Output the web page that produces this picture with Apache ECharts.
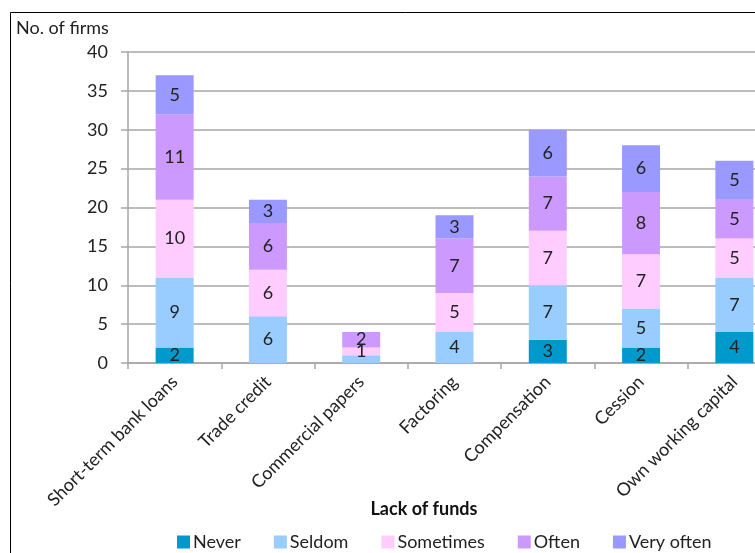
<!DOCTYPE html>
<html>
<head>
<meta charset="utf-8">
<script src="https://cdn.jsdelivr.net/npm/echarts@6/dist/echarts.min.js"></script>
<style>
  html, body { margin: 0; padding: 0; background: #fff; overflow: hidden; }
  /* the plot runs past the right edge of the window, so the canvas is wider than the view */
  #chart { width: 800px; height: 553px; }
</style>
</head>
<body>
<div id="chart"></div>
<script>
// Forms of financing used when funds are lacking
const categories = ['Short-term bank loans', 'Trade credit', 'Commercial papers', 'Factoring', 'Compensation', 'Cession', 'Own working capital'];
const seriesNames = ['Never', 'Seldom', 'Sometimes', 'Often', 'Very often'];
const never     = [2, 0, 0, 0, 3, 2, 4];
const seldom    = [9, 6, 1, 4, 7, 5, 7];
const sometimes = [10, 6, 1, 5, 7, 7, 5];
const often     = [11, 6, 2, 7, 7, 8, 5];
const veryOften = [5, 3, 0, 3, 6, 6, 5];
const yTicks = [0, 5, 10, 15, 20, 25, 30, 35, 40];

const colors = ['#0099cc', '#99ccff', '#ffccff', '#cc99ff', '#9999ff'];
const FONT = 'Lato';
const FS = 18;

// the seldom label of the small "Commercial papers" bar is hidden behind the next one
const hiddenLabels = { 1: [2] };

const values = [never, seldom, sometimes, often, veryOften];
const series = values.map((vals, si) => ({
  name: seriesNames[si],
  type: 'bar',
  stack: 'total',
  barWidth: 38,
  itemStyle: { color: colors[si] },
  label: {
    show: true,
    position: 'inside',
    color: '#222',
    fontFamily: FONT,
    fontSize: FS,
    formatter: p => (p.value ? String(p.value) : '')
  },
  data: vals.map((v, i) => {
    if (hiddenLabels[si] && hiddenLabels[si].includes(i)) {
      return { value: v, label: { show: false } };
    }
    return v;
  })
}));

const chart = echarts.init(document.getElementById('chart'), null, { renderer: 'canvas' });
chart.setOption({
  animation: false,
  textStyle: { fontFamily: FONT },
  title: {
    text: 'No. of firms',
    left: 16,
    top: 19,
    padding: 0,
    textStyle: { fontFamily: FONT, fontSize: FS, fontWeight: 'normal', color: '#222' }
  },
  legend: {
    data: seriesNames,
    left: 177,
    top: 533,
    padding: 0,
    itemWidth: 13,
    itemHeight: 13,
    itemGap: 33,
    icon: 'rect',
    textStyle: { fontFamily: FONT, fontSize: FS, color: '#222', padding: [0, 0, 0, -2] }
  },
  grid: { left: 128, top: 52, bottom: 190, right: 19, containLabel: false },
  xAxis: {
    type: 'category',
    data: categories,
    axisLine: { lineStyle: { color: '#a6a6a6', width: 1.5 } },
    axisTick: { show: true, length: 6, lineStyle: { color: '#a6a6a6', width: 1.5 } },
    axisLabel: {
      rotate: 45,
      margin: 16,
      interval: 0,
      fontFamily: FONT,
      fontSize: FS,
      color: '#222'
    }
  },
  yAxis: {
    type: 'value',
    min: yTicks[0],
    max: yTicks[yTicks.length - 1],
    interval: 5,
    axisLine: { show: true, lineStyle: { color: '#a6a6a6', width: 1.5 } },
    axisTick: { show: true, length: 7, lineStyle: { color: '#a6a6a6', width: 1.5 } },
    axisLabel: { margin: 20, fontFamily: FONT, fontSize: FS, color: '#222' },
    splitLine: { lineStyle: { color: '#a6a6a6', width: 1.5 } }
  },
  graphic: [
    {
      type: 'rect',
      shape: { x: 10.5, y: 12.5, width: 900, height: 700 },
      style: { fill: 'none', stroke: '#000', lineWidth: 1 },
      silent: true
    },
    {
      type: 'text',
      x: 424,
      y: 509,
      style: {
        text: 'Lack of funds',
        fontFamily: FONT,
        fontSize: FS,
        fontWeight: 'bold',
        fill: '#111',
        align: 'center',
        verticalAlign: 'middle'
      }
    }
  ],
  series: series
});
</script>
</body>
</html>
